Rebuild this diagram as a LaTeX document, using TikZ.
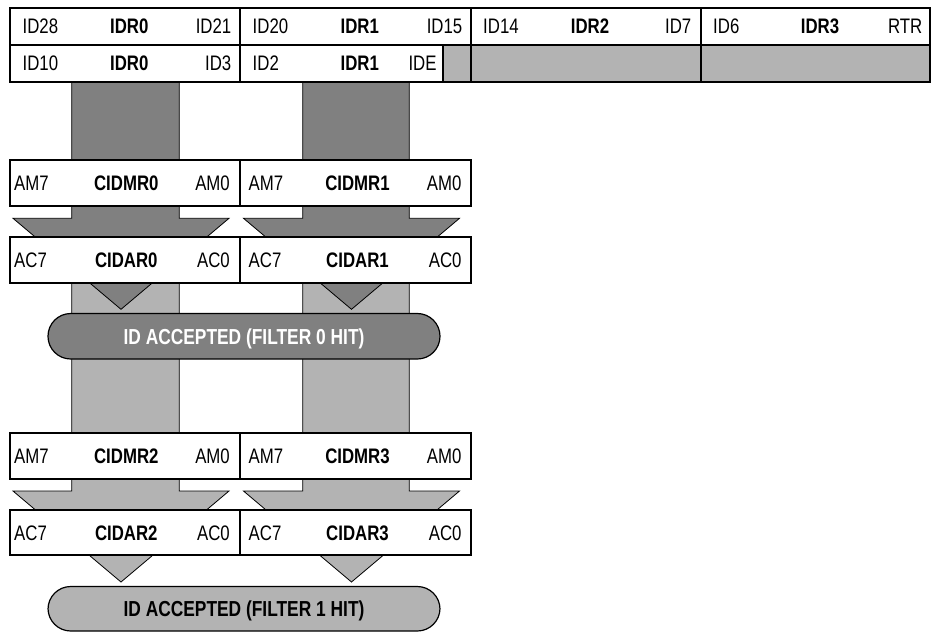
\documentclass[tikz,border=0pt]{standalone}
\usepackage{fontspec}
\newfontfamily\nf{Liberation Sans}[FakeStretch=0.8]
\definecolor{dkgray}{HTML}{808080}
\definecolor{ltgray}{HTML}{B3B3B3}
\begin{document}
\begin{tikzpicture}[x=1pt,y=-1pt,
  reg/.style={draw=black,line width=2pt,fill=white},
  graycell/.style={fill=ltgray},
  lbl/.style={font=\nf\fontsize{21}{24}\selectfont,inner sep=0pt,text height=15pt,text depth=0pt},
  blbl/.style={font=\nf\bfseries\fontsize{21}{24}\selectfont,inner sep=0pt,text height=15pt,text depth=0pt},
  lft/.style={lbl,anchor=west},
  rgt/.style={lbl,anchor=east},
  darkarrow/.style={fill=dkgray,draw=black,line width=0.8pt,line join=miter},
  lightarrow/.style={fill=ltgray,draw=black,line width=0.8pt,line join=miter},
  pillbox/.style={draw=black,line width=1.2pt,rounded corners=22.7pt},
  pilltext/.style={font=\nf\bfseries\fontsize{21.7}{25}\selectfont,inner sep=0pt,text height=15.5pt,text depth=0pt}
]
\useasboundingbox (0,0) rectangle (934,632);
\fill[white] (0,0) rectangle (934,632);

% ---- light (filter 1) arrows
\draw[lightarrow] (71.7,283) -- (179.3,283) -- (179.3,491) -- (229,491) -- (121,582) -- (13,491) -- (71.7,491) -- cycle;
\draw[lightarrow] (302.7,283) -- (409.3,283) -- (409.3,491) -- (459.5,491) -- (351.5,582) -- (243.5,491) -- (302.7,491) -- cycle;

% ---- dark (filter 0) arrows
\draw[darkarrow] (71.7,82) -- (179.3,82) -- (179.3,218.3) -- (229,218.3) -- (121,309.3) -- (13,218.3) -- (71.7,218.3) -- cycle;
\draw[darkarrow] (302.7,82) -- (409.3,82) -- (409.3,218.3) -- (459.5,218.3) -- (351.5,309.3) -- (243.5,218.3) -- (302.7,218.3) -- cycle;

% ---- identifier registers
\fill[white] (9.5,7.5) rectangle (930,44.5);
\fill[white] (9.5,44.5) rectangle (443,81.5);
\fill[graycell] (443,44.5) rectangle (930,81.5);
\draw[line width=2pt] (9.5,7.5) rectangle (930,81.5);
\draw[line width=2pt] (9.5,44.5) -- (930,44.5);
\draw[line width=2pt] (240,7.5) -- (240,81.5);
\draw[line width=2pt] (470.5,7.5) -- (470.5,81.5);
\draw[line width=2pt] (700.5,7.5) -- (700.5,81.5);
\draw[line width=2pt] (443,44.5) -- (443,81.5);

\node[lft] (t1) at (22.5,26) {ID28};
\node[blbl] (t2) at (129.25,26) {IDR0};
\node[rgt] (t3) at (231.5,26) {ID21};
\node[lft] (t4) at (252.5,26) {ID20};
\node[blbl] (t5) at (359.75,26) {IDR1};
\node[rgt] (t6) at (462.5,26) {ID15};
\node[lft] (t7) at (483,26) {ID14};
\node[blbl] (t8) at (590,26) {IDR2};
\node[rgt] (t9) at (691.5,26) {ID7};
\node[lft] (t10) at (713,26) {ID6};
\node[blbl] (t11) at (820,26) {IDR3};
\node[rgt] (t12) at (922.5,26) {RTR};

\node[lft] (u1) at (22.5,63) {ID10};
\node[blbl] (u2) at (129.25,63) {IDR0};
\node[rgt] (u3) at (231.5,63) {ID3};
\node[lft] (u4) at (252.5,63) {ID2};
\node[blbl] (u5) at (359.75,63) {IDR1};
\node[rgt] (u6) at (436.7,63) {IDE};

% ---- filter 0 mask / acceptance registers
\draw[reg] (9.5,160) rectangle (240,205.5);
\draw[reg] (240,160) rectangle (470.5,205.5);
\draw[reg] (9.5,236.7) rectangle (240,282.7);
\draw[reg] (240,236.7) rectangle (470.5,282.7);

\node[lft] (m0a) at (14,182.75) {AM7};
\node[blbl] (m0b) at (126.3,182.75) {CIDMR0};
\node[rgt] (m0c) at (230,182.75) {AM0};
\node[lft] (m1a) at (248.5,182.75) {AM7};
\node[blbl] (m1b) at (357.5,182.75) {CIDMR1};
\node[rgt] (m1c) at (461.7,182.75) {AM0};

\node[lft] (a0a) at (14,259.7) {AC7};
\node[blbl] (a0b) at (126.3,259.7) {CIDAR0};
\node[rgt] (a0c) at (230,259.7) {AC0};
\node[lft] (a1a) at (248.5,259.7) {AC7};
\node[blbl] (a1b) at (357.5,259.7) {CIDAR1};
\node[rgt] (a1c) at (461.7,259.7) {AC0};

% ---- filter 0 hit
\draw[pillbox,fill=dkgray] (48,313.5) rectangle (440,359);
\node[pilltext,text=white] (hit0) at (244,336.25) {ID ACCEPTED (FILTER 0 HIT)};

% ---- filter 1 mask / acceptance registers
\draw[reg] (9.5,432.5) rectangle (240,479.3);
\draw[reg] (240,432.5) rectangle (470.5,479.3);
\draw[reg] (9.5,510) rectangle (240,555);
\draw[reg] (240,510) rectangle (470.5,555);

\node[lft] (m2a) at (14,455.9) {AM7};
\node[blbl] (m2b) at (126.3,455.9) {CIDMR2};
\node[rgt] (m2c) at (230,455.9) {AM0};
\node[lft] (m3a) at (248.5,455.9) {AM7};
\node[blbl] (m3b) at (357.5,455.9) {CIDMR3};
\node[rgt] (m3c) at (461.7,455.9) {AM0};

\node[lft] (a2a) at (14,532.5) {AC7};
\node[blbl] (a2b) at (126.3,532.5) {CIDAR2};
\node[rgt] (a2c) at (230,532.5) {AC0};
\node[lft] (a3a) at (248.5,532.5) {AC7};
\node[blbl] (a3b) at (357.5,532.5) {CIDAR3};
\node[rgt] (a3c) at (461.7,532.5) {AC0};

% ---- filter 1 hit
\draw[pillbox,fill=ltgray] (48,586.5) rectangle (440,631);
\node[pilltext,text=black] (hit1) at (244,608.75) {ID ACCEPTED (FILTER 1 HIT)};
\end{tikzpicture}
\end{document}
